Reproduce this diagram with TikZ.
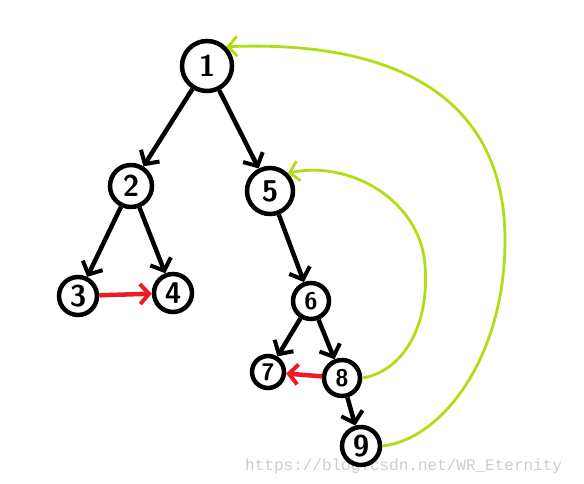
\documentclass[tikz,border=0pt]{standalone}
\usepackage{fontspec}
\setmonofont{Liberation Mono}
\usetikzlibrary{arrows.meta}
\definecolor{lgreen}{RGB}{176,222,20}
\definecolor{pred}{RGB}{237,28,36}
\definecolor{wm}{RGB}{205,205,205}
\begin{document}
\begin{tikzpicture}[x=1pt,y=-1pt,
  nd/.style={draw=black,circle,line width=4.5pt,inner sep=0pt,font=\sffamily\bfseries\fontsize{30}{30}\selectfont},
  sm/.style={font=\sffamily\bfseries\fontsize{24}{24}\selectfont},
  edge/.style={line width=4.5pt,-{Straight Barb[length=10pt,width=22pt,line width=4pt]}},
  thread/.style={lgreen,line width=2.8pt,-{Straight Barb[length=9pt,width=20pt,line width=2.8pt]}},
  redge/.style={pred,line width=4.5pt,-{Straight Barb[length=9pt,width=20pt,line width=4pt]}}]
\useasboundingbox (0,0) rectangle (584,483);
\node[font=\ttfamily\fontsize{16}{16}\selectfont,text=wm,anchor=base west,inner sep=0pt] (wm) at (245,470) {https://blog.csdn.net/WR\_Eternity};
\node[nd,minimum size=50pt] (n1) at (207,66) {1};
\node[nd,minimum size=42pt] (n2) at (131,186) {2};
\node[nd,minimum size=46pt] (n5) at (270,191) {5};
\node[nd,minimum size=38pt] (n3) at (78,296) {3};
\node[nd,minimum size=38pt] (n4) at (173,293) {4};
\node[nd,sm,minimum size=36pt] (n6) at (311,301) {6};
\node[nd,sm,minimum size=32pt] (n7) at (268,372) {7};
\node[nd,sm,minimum size=36pt] (n8) at (342,378) {8};
\node[nd,minimum size=38pt,fill=white] (n9) at (361,446) {9};
\draw[edge] (n1) -- (n2);
\draw[edge] (n1) -- (n5);
\draw[edge] (n2) -- (n3);
\draw[edge] (n2) -- (n4);
\draw[edge] (n5) -- (n6);
\draw[edge] (n6) -- (n7);
\draw[edge] (n6) -- (n8);
\draw[edge] (n8) -- (n9);
\draw[redge] (n3) -- (n4);
\draw[redge] (n8) -- (n7);
\draw[thread] (n8.east) .. controls (400,372) and (430,330) .. (425,265)
  .. controls (420,200) and (350,160) .. (n5.north east);
\draw[thread] (n9.east) .. controls (440,440) and (505,360) .. (505,240)
  .. controls (505,100) and (400,40) .. (n1.north east);
\end{tikzpicture}
\end{document}
